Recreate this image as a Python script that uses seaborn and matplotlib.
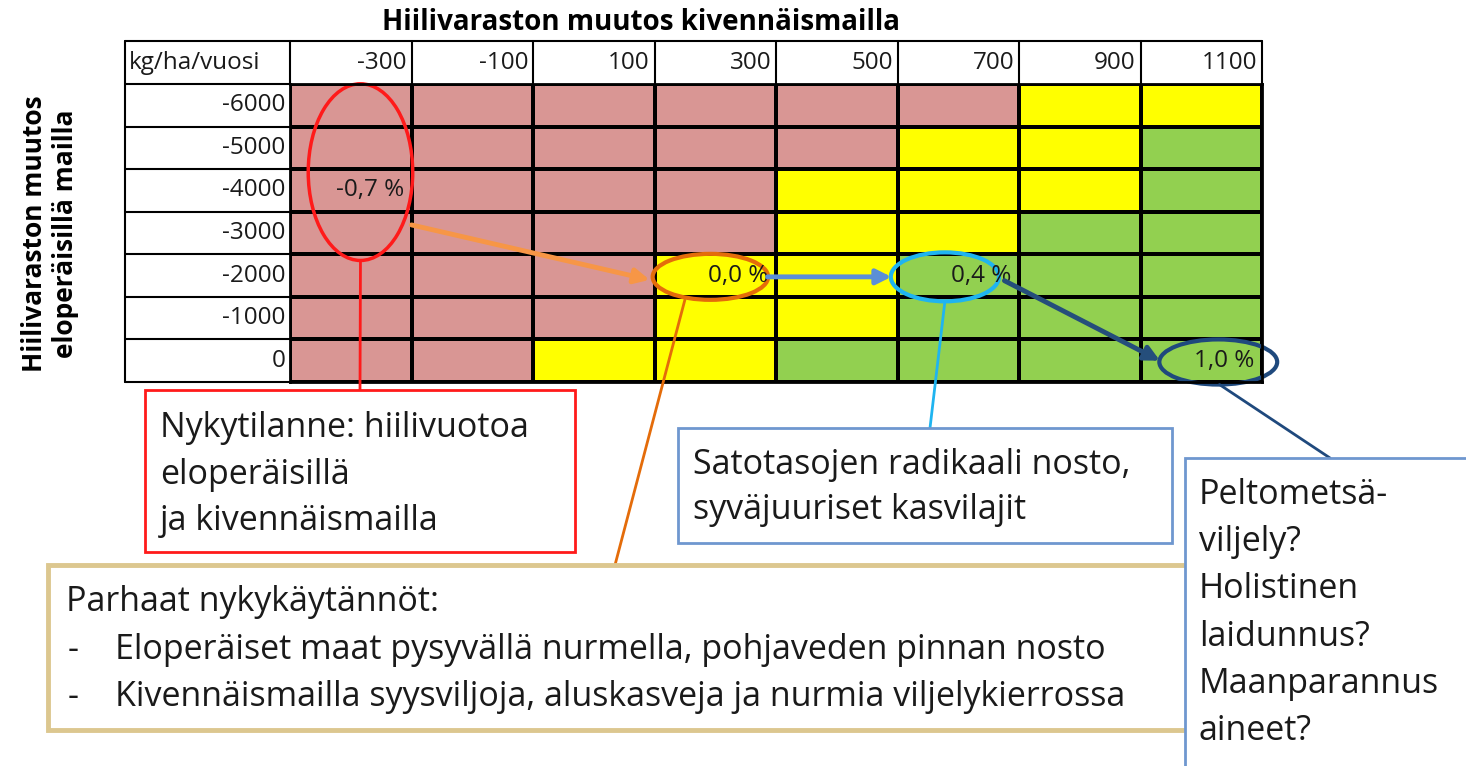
import numpy as np
import pandas as pd
import seaborn as sns
import matplotlib.pyplot as plt
from matplotlib.colors import ListedColormap
from matplotlib.patches import Ellipse, Rectangle, ConnectionPatch

# Table axes
mineral = [-300, -100, 100, 300, 500, 700, 900, 1100]
organic = [-6000, -5000, -4000, -3000, -2000, -1000, 0]

# 0 = carbon loss (red), 1 = about neutral (yellow), 2 = carbon gain (green)
classes = [
    [0, 0, 0, 0, 0, 0, 1, 1],
    [0, 0, 0, 0, 0, 1, 1, 2],
    [0, 0, 0, 0, 1, 1, 1, 2],
    [0, 0, 0, 0, 1, 1, 2, 2],
    [0, 0, 0, 1, 1, 2, 2, 2],
    [0, 0, 0, 1, 1, 2, 2, 2],
    [0, 0, 1, 1, 2, 2, 2, 2],
]
class_colors = ["#D99694", "#FFFF00", "#92D050"]

# cells with a percentage written in them
pct_mineral = [-300, 300, 700, 1100]
pct_organic = [-4000, -2000, -2000, 0]
pct_labels = ["-0,7 %", "0,0 %", "0,4 %", "1,0 %"]

title = "Hiilivaraston muutos kivennäismailla"
ylabel = "Hiilivaraston muutos\neloperäisillä mailla"
unit = "kg/ha/vuosi"

box_now = ["Nykytilanne: hiilivuotoa", "eloperäisillä", "ja kivennäismailla"]
box_best_head = "Parhaat nykykäytännöt:"
box_best = ["Eloperäiset maat pysyvällä nurmella, pohjaveden pinnan nosto",
            "Kivennäismailla syysviljoja, aluskasveja ja nurmia viljelykierrossa"]
box_yield = ["Satotasojen radikaali nosto,", "syväjuuriset kasvilajit"]
box_future = ["Peltometsä-", "viljely?", "Holistinen", "laidunnus?",
              "Maanparannus", "aineet?"]

df = pd.DataFrame(classes, index=organic, columns=mineral)

sns.set_style("white")
plt.rcParams["font.family"] = ["Open Sans", "DejaVu Sans"]
txt = "#1a1a1a"

W, H = 1466, 766
fig = plt.figure(figsize=(W / 100, H / 100), dpi=100)

# heatmap covers only the coloured cells
ax = fig.add_axes([290 / W, 1 - 382 / H, 972 / W, 298 / H])
sns.heatmap(df, ax=ax, cmap=ListedColormap(class_colors), vmin=-0.5, vmax=2.5,
            cbar=False, linewidths=1.5, linecolor="black",
            xticklabels=False, yticklabels=False)
ax.set_xlabel("")
ax.set_ylabel("")
ax.tick_params(length=0)
for sp in ax.spines.values():
    sp.set_visible(True)
    sp.set_linewidth(2)
    sp.set_color("black")

nx, ny = len(mineral), len(organic)
lab_w = 1.36  # label column width in cell units

# header row + label column
lk = dict(color="black", lw=1.5, clip_on=False)
ax.plot([-lab_w, nx], [-1, -1], **lk)
for j in range(nx + 1):
    ax.plot([j, j], [-1, 0], **lk)
for i in range(ny + 1):
    ax.plot([-lab_w, 0], [i, i], **lk)
ax.plot([-lab_w, -lab_w], [-1, ny], **lk)

fs_tab = 17.5
ax.text(-lab_w + 0.03, -0.5, unit, ha="left", va="center", fontsize=fs_tab, color=txt)
for j, m in enumerate(mineral):
    ax.text(j + 0.96, -0.5, str(m), ha="right", va="center", fontsize=fs_tab, color=txt)
for i, o in enumerate(organic):
    ax.text(-0.04, i + 0.5, str(o), ha="right", va="center", fontsize=fs_tab, color=txt)
for m, o, s in zip(pct_mineral, pct_organic, pct_labels):
    j, i = mineral.index(m), organic.index(o)
    ax.text(j + 0.94, i + 0.5, s, ha="right", va="center", fontsize=fs_tab, color=txt)

# rings around the highlighted cells
red, orange, cyan, navy = "#FF1A1A", "#E46C0A", "#1FB4F0", "#1F497D"
ax.add_patch(Ellipse((0.58, 2.07), 0.86, 4.15, fill=False, ec=red, lw=2.5, clip_on=False))
ax.add_patch(Ellipse((3.46, 4.53), 0.95, 1.08, fill=False, ec=orange, lw=3, clip_on=False))
ax.add_patch(Ellipse((5.39, 4.53), 0.89, 1.15, fill=False, ec=cyan, lw=3, clip_on=False))
ax.add_patch(Ellipse((7.64, 6.53), 0.97, 1.06, fill=False, ec=navy, lw=3, clip_on=False))

# arrows between them
arr = dict(arrowstyle="-|>", lw=3.5, mutation_scale=22, shrinkA=0, shrinkB=0)
ax.annotate("", xy=(2.96, 4.6), xytext=(1.0, 3.31),
            arrowprops=dict(color="#F79646", **arr), annotation_clip=False)
ax.annotate("", xy=(4.95, 4.53), xytext=(3.93, 4.53),
            arrowprops=dict(color="#5B8FD6", **arr), annotation_clip=False)
ax.annotate("", xy=(7.16, 6.5), xytext=(5.88, 4.62),
            arrowprops=dict(color="#254E7B", **arr), annotation_clip=False)

# overlay in pixel coordinates for titles and text boxes
ov = fig.add_axes([0, 0, 1, 1], zorder=5)
ov.set_xlim(0, W)
ov.set_ylim(H, 0)
ov.axis("off")

ov.text(641, 22, title, ha="center", va="center", fontsize=20, fontweight="bold", color="black")
ov.text(50, 234, ylabel, ha="center", va="center", rotation=90, fontsize=19,
        fontweight="bold", color="black", linespacing=1.2)

fs_box = 24.5
blue_edge = "#6F97CF"


def box(x0, y0, x1, y1, ec, lw, z=1):
    ov.add_patch(Rectangle((x0, y0), x1 - x0, y1 - y0, fc="white", ec=ec, lw=lw, zorder=z))


def lines(x, y0, step, rows, z=2):
    for k, s in enumerate(rows):
        ov.text(x, y0 + k * step, s, ha="left", va="center", fontsize=fs_box, color=txt, zorder=z)


box(145, 390, 575, 552, red, 2)
lines(160, 428, 46.5, box_now)

box(678, 428, 1172, 543, blue_edge, 2)
lines(693, 465, 45, box_yield)

box(48, 565, 1200, 730, "#DCC78F", 3.5)
lines(66, 602, 47.5, [box_best_head])
for k, s in enumerate(box_best):
    ov.text(68, 650 + k * 47.5, "-", ha="left", va="center", fontsize=fs_box, color=txt)
    ov.text(115, 650 + k * 47.5, s, ha="left", va="center", fontsize=fs_box, color=txt)

box(1185, 458, 1490, 790, blue_edge, 2, z=3)
lines(1199, 495, 47.2, box_future, z=4)

# leader lines from rings to boxes
def leader(xy_cell, xy_px, color):
    con = ConnectionPatch(xyA=xy_cell, coordsA=ax.transData, xyB=xy_px, coordsB=ov.transData,
                          color=color, lw=2)
    fig.add_artist(con)


leader((0.58, 4.15), (360, 390), red)
leader((3.25, 5.07), (615, 565), orange)
leader((5.39, 5.11), (930, 428), cyan)
leader((7.65, 7.06), (1330, 458), navy)

fig.savefig("out.png", dpi=100)
